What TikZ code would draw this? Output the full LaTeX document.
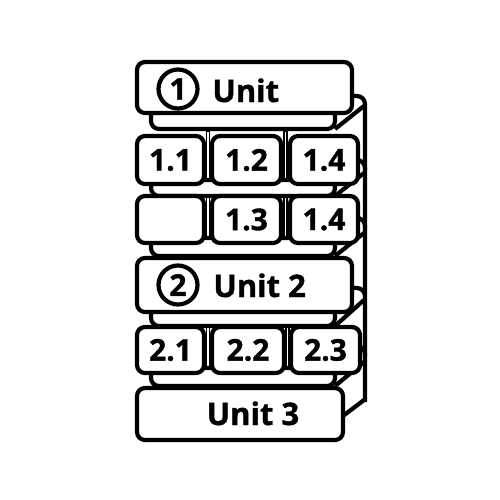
\documentclass[tikz,border=0pt]{standalone}
\usepackage{fontspec}
\setmainfont{Open Sans}[BoldFeatures={FakeBold=1.2}]
\usetikzlibrary{positioning}

\tikzset{
  block/.style={draw,fill=white,rounded corners=4pt,line width=2.1pt,inner sep=0pt},
  cell/.style={block,minimum height=24pt,font=\fontsize{15}{17}\selectfont\bfseries},
  shelf/.style={draw,fill=white,rounded corners=4pt,line width=2.1pt},
  strip/.style={draw,rounded corners=4pt,line width=2.1pt},
  edge/.style={line width=2.1pt},
  link/.style={draw,fill=white,line width=0.9pt},
  ulbl/.style={inner sep=0pt,font=\fontsize{15.5}{18}\selectfont\bfseries},
  num/.style={circle,draw,line width=2.1pt,minimum size=19.5pt,inner sep=0pt,font=\fontsize{15}{17}\selectfont\bfseries}
}

\begin{document}
\begin{tikzpicture}[x=0.5pt,y=-0.5pt]
  \useasboundingbox (0,0) rectangle (500,500);

  % Draw the side strips
  \draw[strip] (350,96) -- (365,96) -- (365,170);
  \draw[strip] (356,160) -- (365,160) -- (365,228);
  \draw[strip] (356,218) -- (365,218) -- (365,295);
  \draw[strip] (350,288) -- (365,288) -- (365,356);
  \draw[strip] (357,346) -- (365,346) -- (365,402);

  % Draw the diagonal edges
  \draw[edge] (335,129) -- (364,106);
  \draw[edge] (335,196) -- (364,173);
  \draw[edge] (335,256) -- (364,233);
  \draw[edge] (335,326) -- (364,300);
  \draw[edge] (335,386) -- (364,362);
  \draw[edge] (343,416) -- (364,400);

  % Draw the links between cells
  \draw[link] (206.5,131) rectangle (209.5,189);
  \draw[link] (284,131) rectangle (287,189);
  \draw[link] (206.5,193) rectangle (209.5,247);
  \draw[link] (284,193) rectangle (287,247);
  \draw[link] (206.5,323) rectangle (209.5,377);
  \draw[link] (286,323) rectangle (289,377);

  % Draw the shelves
  \draw[shelf] (151,108) rectangle (335,129);
  \draw[shelf] (151,180) rectangle (335,196);
  \draw[shelf] (151,238) rectangle (335,256);
  \draw[shelf] (151,307) rectangle (335,326);
  \draw[shelf] (151,368) rectangle (335,386);

  % Draw the unit blocks
  \node[block,minimum width=107.5pt,minimum height=25.5pt] (u1) at (244.5,87.5) {};
  \node[block,minimum width=107.5pt,minimum height=27pt] (u2) at (244.5,285) {};
  \node[block,minimum width=103pt,minimum height=26pt] (u3) at (240,414) {};

  % Draw the cells
  \node[cell,minimum width=33.5pt] (c11) at (170.5,160) {1.1};
  \node[cell,minimum width=34.5pt] (c12) at (246.5,160) {1.2};
  \node[cell,minimum width=34pt] (c14) at (324,160) {1.4};
  \node[cell,minimum width=33.5pt,minimum height=23.5pt] (c00) at (170.5,219.5) {};
  \node[cell,minimum width=34.5pt,minimum height=23.5pt] (c13) at (246.5,219.5) {1.3};
  \node[cell,minimum width=34pt,minimum height=23.5pt] (c15) at (324,219.5) {1.4};
  \node[cell,minimum width=33.5pt,minimum height=23pt] (c21) at (170.5,350) {2.1};
  \node[cell,minimum width=36pt,minimum height=23pt] (c22) at (248,350) {2.2};
  \node[cell,minimum width=34.5pt,minimum height=23pt] (c23) at (325.5,350) {2.3};

  % Draw the labels
  \node[num] (n1) at (178,89) {1};
  \node[ulbl,anchor=base west] (t1) at (212,102) {Unit};
  \node[num] (n2) at (178,285) {2};
  \node[ulbl,anchor=base west] (t2) at (213,297) {Unit 2};
  \node[ulbl,anchor=base] (t3) at (253,425) {Unit 3};
\end{tikzpicture}
\end{document}
